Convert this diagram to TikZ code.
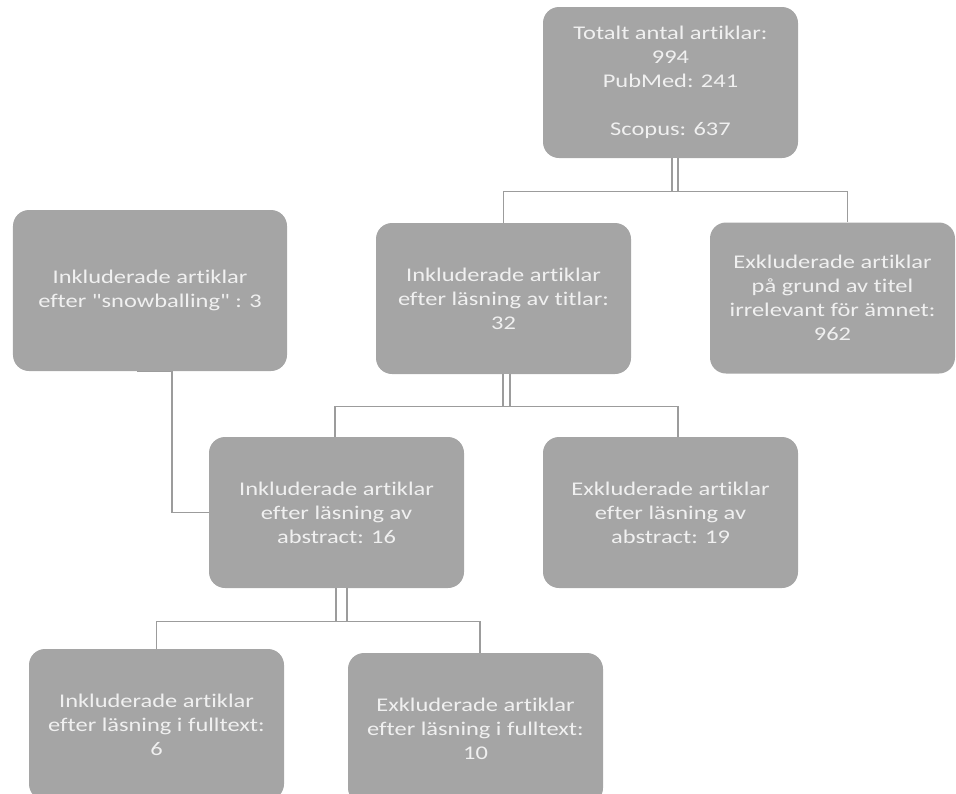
\documentclass[tikz,border=0pt]{standalone}
\usepackage{fontspec}
\setmainfont{Carlito}[FakeStretch=1.26, Ligatures={TeXOff,NoCommon}]
\usepackage{xcolor}
\usetikzlibrary{positioning,calc}

\definecolor{boxgray}{HTML}{A5A5A5}
\definecolor{linegray}{HTML}{9C9C9C}
\definecolor{textgray}{HTML}{F0F0F0}

\tikzset{
  box/.style={fill=boxgray, rounded corners=0.4cm, text=textgray, align=center,
    minimum width=6.375cm, minimum height=3.775cm, inner sep=0pt,
    font=\fontsize{13.8}{17}\selectfont},
  link/.style={draw=linegray, line width=0.9pt},
  stem/.style={draw=linegray, line width=0.9pt, double=white, double distance=#1},
}

\begin{document}
\begin{tikzpicture}
    \useasboundingbox (0,0) rectangle (23.9,-19.825);
    \clip (0,0) rectangle (23.9,-19.825);

    % Search results
    \node[box] (total) at (16.7625,-2.0625) {Totalt antal artiklar:\\994\\PubMed: 241\\[17pt]Scopus: 637};
    \node[box] (titles) at (12.5875,-7.4625) {Inkluderade artiklar\\efter läsning av titlar:\\32};
    \node[box, minimum width=6.125cm] (exTitles) at (20.8125,-7.45) {Exkluderade artiklar\\på grund av titel\\irrelevant för ämnet:\\962};
    \node[box, minimum width=6.85cm, minimum height=4.025cm] (snowball) at (3.75,-7.2625) {Inkluderade artiklar\\efter "snowballing" : 3};
    \node[box] (absIn) at (8.4125,-12.8125) {Inkluderade artiklar\\efter läsning av\\abstract: 16};
    \node[box] (absEx) at (16.7625,-12.8125) {Exkluderade artiklar\\efter läsning av\\abstract: 19};
    \node[box] (ftIn) at (3.9125,-18.1125) {Inkluderade artiklar\\efter läsning i fulltext:\\6};
    \node[box] (ftEx) at (11.8875,-18.2125) {Exkluderade artiklar\\efter läsning i fulltext:\\10};

    % Connectors
    \draw[stem=0.12cm] ([xshift=0.1125cm]total.south) -- ++(0,-0.85);
    \draw[link] (titles.north) -- ++(0,0.775) -| ([xshift=0.375cm]exTitles.north);
    \draw[stem=0.14cm] ([xshift=0.075cm]titles.south) -- ++(0,-0.825);
    \draw[link] ([xshift=-0.0375cm]absIn.north) -- ++(0,0.75) -| ([xshift=0.1875cm]absEx.north);
    \draw[stem=0.24cm] ([xshift=0.125cm]absIn.south) -- ++(0,-0.85);
    \draw[link] (ftIn.north) -- ++(0,0.675) -| ([xshift=0.1125cm]ftEx.north);
    \draw[link] ([xshift=-0.325cm]snowball.south) -- ++(0.875,0) |- (absIn.west);
\end{tikzpicture}
\end{document}
